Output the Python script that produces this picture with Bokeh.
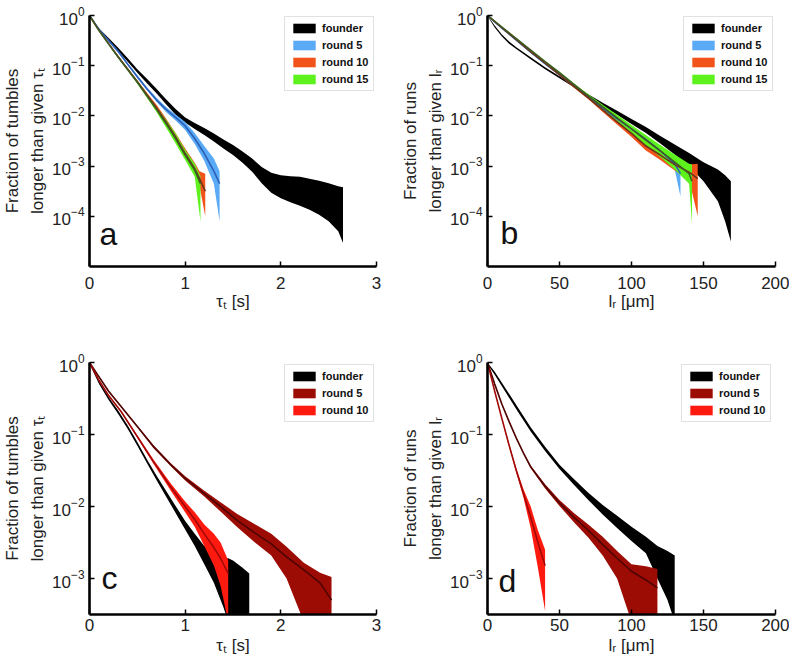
from bokeh.plotting import figure
from bokeh.layouts import column, row
from bokeh.models import Range1d, FixedTicker, Legend, LegendItem, Label, ColumnDataSource
from bokeh.embed import file_html
from bokeh.resources import INLINE

# ---------------- Panel a : tumble durations ----------------
a_founder_t = [0, 0.1, 0.2, 0.3, 0.4, 0.5, 0.6, 0.7, 0.8, 0.9, 1.0, 1.1, 1.2, 1.3, 1.4, 1.5, 1.6, 1.7, 1.8, 1.9, 2.0, 2.1, 2.2, 2.3, 2.4, 2.5, 2.6, 2.65]
a_founder_hi = [1.0, 0.55, 0.355, 0.229, 0.141, 0.0851, 0.055, 0.0347, 0.0214, 0.0138, 0.00933, 0.00724, 0.00575, 0.00447, 0.00339, 0.00263, 0.00195, 0.00141, 0.000955, 0.000741, 0.000661, 0.000631, 0.000617, 0.000562, 0.000513, 0.000457, 0.000398, 0.00038]
a_founder_lo = [0.955, 0.49, 0.309, 0.195, 0.12, 0.0724, 0.0447, 0.0282, 0.017, 0.0105, 0.00741, 0.0055, 0.00417, 0.00309, 0.00224, 0.00166, 0.00117, 0.000776, 0.000457, 0.000295, 0.000229, 0.000191, 0.000162, 0.000135, 0.000107, 0.0000794, 0.0000501, 0.0000295]

a_r5_t = [0, 0.1, 0.2, 0.3, 0.4, 0.5, 0.6, 0.7, 0.8, 0.9, 1.0, 1.1, 1.2, 1.3, 1.36]
a_r5_mid = [1.0, 0.525, 0.316, 0.191, 0.107, 0.0603, 0.0347, 0.0209, 0.0135, 0.00933, 0.00631, 0.00355, 0.00178, 0.000794, 0.000447]
a_r5_hi = [1.0, 0.537, 0.324, 0.2, 0.112, 0.0646, 0.0372, 0.0229, 0.0151, 0.0107, 0.00759, 0.00457, 0.00251, 0.00141, 0.000794]
a_r5_lo = [0.977, 0.513, 0.309, 0.182, 0.102, 0.0562, 0.0324, 0.0191, 0.012, 0.00813, 0.00525, 0.00275, 0.00126, 0.000447, 0.0000794]

a_r10_t = [0, 0.1, 0.2, 0.3, 0.4, 0.5, 0.6, 0.7, 0.8, 0.9, 1.0, 1.1, 1.15, 1.21]
a_r10_mid = [1.0, 0.501, 0.275, 0.151, 0.0851, 0.0479, 0.0263, 0.0145, 0.00759, 0.0038, 0.00178, 0.000891, 0.000562, 0.000316]
a_r10_hi = [1.0, 0.513, 0.285, 0.158, 0.0891, 0.0513, 0.0288, 0.0166, 0.00891, 0.00457, 0.00224, 0.00117, 0.000794, 0.000708]
a_r10_lo = [0.977, 0.49, 0.266, 0.145, 0.0813, 0.0447, 0.024, 0.0126, 0.00646, 0.00316, 0.00141, 0.000676, 0.000398, 0.0001]

a_r15_t = [0, 0.1, 0.2, 0.3, 0.4, 0.5, 0.6, 0.7, 0.8, 0.9, 1.0, 1.1, 1.16]
a_r15_mid = [1.0, 0.501, 0.269, 0.148, 0.0832, 0.0468, 0.0251, 0.0135, 0.00708, 0.00355, 0.00166, 0.000832, 0.000447]
a_r15_hi = [1.0, 0.513, 0.279, 0.155, 0.0871, 0.0501, 0.0275, 0.0151, 0.00851, 0.00447, 0.00209, 0.00112, 0.000631]
a_r15_lo = [0.977, 0.49, 0.26, 0.141, 0.0794, 0.0437, 0.0229, 0.012, 0.00589, 0.00282, 0.00132, 0.000617, 0.0000794]

# ---------------- Panel b : run lengths ----------------
b_founder_l = [0, 5, 10, 15, 20, 30, 40, 50, 60, 70, 80, 90, 100, 110, 120, 130, 140, 150, 160, 165, 169]
b_founder_hi = [1.0, 0.631, 0.417, 0.302, 0.234, 0.148, 0.0933, 0.0617, 0.0407, 0.0269, 0.0182, 0.0126, 0.00871, 0.00603, 0.00398, 0.00269, 0.00182, 0.0012, 0.000851, 0.000661, 0.000501]
b_founder_lo = [0.977, 0.575, 0.38, 0.275, 0.214, 0.135, 0.0851, 0.0562, 0.0372, 0.024, 0.0158, 0.0105, 0.00692, 0.00457, 0.00282, 0.0017, 0.001, 0.000501, 0.0002, 0.0000794, 0.0000316]

b_r5_l = [0, 10, 20, 30, 40, 50, 60, 70, 80, 90, 100, 110, 120, 130, 134]
b_r5_mid = [1.0, 0.562, 0.324, 0.186, 0.11, 0.0661, 0.0398, 0.024, 0.0145, 0.00871, 0.0055, 0.00339, 0.002, 0.00112, 0.000708]
b_r5_hi = [1.0, 0.575, 0.331, 0.193, 0.113, 0.0692, 0.0417, 0.0257, 0.0155, 0.00955, 0.00617, 0.00389, 0.0024, 0.00148, 0.00112]
b_r5_lo = [0.977, 0.55, 0.316, 0.18, 0.106, 0.0631, 0.038, 0.0224, 0.0135, 0.00794, 0.0049, 0.00295, 0.00166, 0.000851, 0.000251]

b_r10_l = [0, 10, 20, 30, 40, 50, 60, 70, 80, 90, 100, 110, 120, 130, 140, 146]
b_r10_mid = [1.0, 0.575, 0.331, 0.191, 0.112, 0.0661, 0.0389, 0.0229, 0.0132, 0.00759, 0.00447, 0.00251, 0.00166, 0.00107, 0.000759, 0.000562]
b_r10_hi = [1.0, 0.589, 0.343, 0.197, 0.117, 0.0692, 0.0417, 0.0245, 0.0145, 0.00851, 0.00525, 0.00309, 0.00209, 0.00141, 0.00107, 0.00112]
b_r10_lo = [0.977, 0.562, 0.32, 0.184, 0.107, 0.0631, 0.0363, 0.0214, 0.012, 0.00676, 0.0038, 0.00204, 0.00132, 0.000813, 0.000537, 0.0001]

b_r15_l = [0, 10, 20, 30, 40, 50, 60, 70, 80, 90, 100, 110, 120, 130, 140, 142]
b_r15_mid = [1.0, 0.589, 0.347, 0.204, 0.12, 0.0724, 0.0427, 0.0251, 0.0151, 0.00912, 0.0055, 0.00331, 0.002, 0.0012, 0.000708, 0.000501]
b_r15_hi = [1.0, 0.603, 0.355, 0.211, 0.124, 0.0759, 0.0447, 0.0269, 0.0166, 0.0105, 0.00661, 0.00417, 0.00263, 0.0017, 0.00112, 0.00107]
b_r15_lo = [0.977, 0.575, 0.339, 0.197, 0.116, 0.0692, 0.0407, 0.0234, 0.0138, 0.00794, 0.00457, 0.00263, 0.00151, 0.000851, 0.000447, 0.0000708]

# ---------------- Panel c : tumble durations ----------------
c_founder_t = [0, 0.1, 0.2, 0.3, 0.4, 0.5, 0.6, 0.7, 0.8, 0.9, 1.0, 1.1, 1.2, 1.3, 1.4, 1.45, 1.5, 1.6, 1.67]
c_founder_hi = [1.0, 0.55, 0.331, 0.216, 0.133, 0.0785, 0.0452, 0.0269, 0.0166, 0.0102, 0.00631, 0.00417, 0.00282, 0.00224, 0.00191, 0.00191, 0.00178, 0.00141, 0.00117]
c_founder_lo = [0.955, 0.501, 0.302, 0.193, 0.119, 0.07, 0.0403, 0.0234, 0.0138, 0.00813, 0.00479, 0.00282, 0.00158, 0.000871, 0.000398, 0.000251, 0.000251, 0.000251, 0.000251]

c_r5_t = [0, 0.1, 0.2, 0.33, 0.5, 0.67, 0.85, 1.0, 1.2, 1.37, 1.54, 1.72, 1.9, 2.06, 2.24, 2.41, 2.53]
c_r5_mid = [1.0, 0.631, 0.398, 0.245, 0.129, 0.0676, 0.038, 0.0245, 0.0151, 0.01, 0.00646, 0.00437, 0.00302, 0.002, 0.00132, 0.000871, 0.000501]
c_r5_hi = [1.0, 0.646, 0.407, 0.251, 0.132, 0.0708, 0.0398, 0.0263, 0.0166, 0.0115, 0.00794, 0.00575, 0.00417, 0.00275, 0.00166, 0.0012, 0.00105]
c_r5_lo = [0.977, 0.617, 0.389, 0.24, 0.126, 0.0646, 0.0363, 0.0229, 0.0138, 0.00851, 0.00525, 0.00324, 0.00209, 0.001, 0.000251, 0.000251, 0.000251]

c_r10_t = [0, 0.1, 0.2, 0.33, 0.5, 0.67, 0.85, 1.0, 1.1, 1.2, 1.3, 1.37, 1.45]
c_r10_mid = [1.0, 0.562, 0.347, 0.209, 0.0933, 0.0417, 0.0186, 0.01, 0.00661, 0.00417, 0.00269, 0.00191, 0.00117]
c_r10_hi = [1.0, 0.575, 0.355, 0.214, 0.0977, 0.0447, 0.0209, 0.0117, 0.00832, 0.00562, 0.00417, 0.00316, 0.00178]
c_r10_lo = [0.977, 0.55, 0.339, 0.204, 0.0891, 0.0389, 0.0166, 0.00832, 0.00525, 0.00282, 0.00151, 0.000794, 0.000251]

# ---------------- Panel d : run lengths ----------------
d_founder_l = [0, 5, 10, 20, 30, 40, 50, 60, 70, 80, 90, 100, 110, 118, 125, 130]
d_founder_hi = [1.0, 0.741, 0.525, 0.257, 0.126, 0.0676, 0.038, 0.024, 0.0155, 0.0105, 0.00741, 0.00525, 0.0038, 0.00282, 0.0024, 0.00209]
d_founder_lo = [0.955, 0.676, 0.468, 0.224, 0.11, 0.0589, 0.0331, 0.02, 0.0123, 0.00776, 0.00501, 0.00331, 0.00224, 0.001, 0.000501, 0.000251]

d_r5_l = [0, 5, 10, 15, 20, 25, 30, 40, 50, 60, 70, 80, 90, 100, 110, 118]
d_r5_mid = [1.0, 0.501, 0.263, 0.151, 0.0891, 0.055, 0.0355, 0.0191, 0.0112, 0.00708, 0.00468, 0.00295, 0.00191, 0.00126, 0.000955, 0.000741]
d_r5_hi = [1.0, 0.513, 0.269, 0.155, 0.0912, 0.0562, 0.0372, 0.0204, 0.0123, 0.00813, 0.00562, 0.0038, 0.0024, 0.00158, 0.00148, 0.00135]
d_r5_lo = [0.977, 0.49, 0.257, 0.148, 0.0871, 0.0537, 0.0339, 0.0178, 0.0102, 0.00603, 0.00372, 0.00209, 0.001, 0.000251, 0.000251, 0.000251]

d_r10_l = [0, 5, 10, 15, 20, 25, 30, 35, 40]
d_r10_mid = [1.0, 0.398, 0.166, 0.0708, 0.0316, 0.0151, 0.00708, 0.00316, 0.00151]
d_r10_hi = [1.0, 0.407, 0.17, 0.0741, 0.0339, 0.0174, 0.01, 0.00468, 0.00251]
d_r10_lo = [0.977, 0.389, 0.162, 0.0676, 0.0295, 0.0132, 0.00501, 0.00141, 0.000355]

# ---------------- axes / labels ----------------
tau_ticks = [0, 1, 2, 3]
len_ticks = [0, 50, 100, 150, 200]
y_ticks_top = [1e-4, 1e-3, 1e-2, 1e-1, 1]
y_ticks_bottom = [1e-3, 1e-2, 1e-1, 1]
legend_names_top = ["founder", "round 5", "round 10", "round 15"]
legend_names_bottom = ["founder", "round 5", "round 10"]
xlabel_tau = "τₜ [s]"
xlabel_len = "lᵣ [μm]"
ylabel_tau = "Fraction of tumbles\nlonger than given τₜ"
ylabel_len = "Fraction of runs\nlonger than given lᵣ"

BLACK = ("#000000", "#000000")
BLUE = ("#5aaaf5", "#2c60b8")
ORANGE = ("#f2531b", "#6e3418")
GREEN = ("#5df21c", "#3e5a22")
DARKRED = ("#9c0c04", "#4e0402")
RED = ("#ff1a10", "#a00808")

FONT = "Liberation Sans"


def panel(series, names, xmax, ymin, xticks, yticks, xlabel, ylabel, letter,
          width, height, borders, legend_loc, letter_pos, x_standoffs):
    left, right, top, bottom = borders
    p = figure(width=width, height=height, x_range=Range1d(0, xmax),
               y_range=Range1d(ymin, 1), y_axis_type="log",
               output_backend="svg", toolbar_location=None,
               min_border_left=left, min_border_right=right,
               min_border_top=top, min_border_bottom=bottom)
    p.outline_line_color = None
    p.xgrid.visible = False
    p.ygrid.visible = False
    p.background_fill_color = "white"

    bands = []
    for (x, lo, hi, mid, colors) in series:
        src = ColumnDataSource(dict(x=x, lo=lo, hi=hi))
        r = p.varea(x="x", y1="lo", y2="hi", source=src,
                    fill_color=colors[0], fill_alpha=1.0)
        bands.append(r)
    for (x, lo, hi, mid, colors) in series:
        if mid is not None:
            p.line(x=x, y=mid, line_color=colors[1], line_width=1.6)

    p.xaxis.ticker = FixedTicker(ticks=xticks)
    p.yaxis.ticker = FixedTicker(ticks=yticks)
    for ax in (p.xaxis[0], p.yaxis[0]):
        ax.axis_line_width = 2.6
        ax.axis_line_color = "black"
        ax.major_tick_in = 5
        ax.major_tick_out = 0
        ax.major_tick_line_width = 1.5
        ax.minor_tick_line_color = None
        ax.major_label_text_font = FONT
        ax.major_label_text_font_size = "17px"
        ax.major_label_text_color = "#222222"
        ax.axis_label_text_font = FONT
        ax.axis_label_text_font_size = "17px"
        ax.axis_label_text_font_style = "normal"
        ax.axis_label_text_color = "#222222"
    p.xaxis.axis_label = xlabel
    p.yaxis.axis_label = ylabel
    p.xaxis.major_label_standoff = x_standoffs[0]
    p.xaxis.axis_label_standoff = x_standoffs[1]
    p.yaxis.major_label_standoff = 5
    p.yaxis.axis_label_standoff = 2
    p.yaxis.axis_label_text_line_height = 1.3

    items = [LegendItem(label=n, renderers=[r]) for n, r in zip(names, bands)]
    leg = Legend(items=items, location=legend_loc)
    leg.label_text_font = FONT
    leg.label_text_font_size = "11px"
    leg.label_text_font_style = "bold"
    leg.label_text_color = "#111111"
    leg.glyph_width = 28
    leg.glyph_height = 12
    leg.label_height = 12
    leg.label_standoff = 4
    leg.spacing = 5
    leg.padding = 5
    leg.margin = 0
    leg.border_line_color = "#c4c4c4"
    leg.border_line_width = 1
    leg.background_fill_color = "white"
    leg.background_fill_alpha = 1.0
    p.add_layout(leg)

    p.add_layout(Label(x=letter_pos[0], y=letter_pos[1], x_units="screen",
                       y_units="screen", text=letter, text_font=FONT,
                       text_font_size="32px", text_color="#111111"))
    return p


pa = panel([(a_founder_t, a_founder_lo, a_founder_hi, None, BLACK),
            (a_r5_t, a_r5_lo, a_r5_hi, a_r5_mid, BLUE),
            (a_r10_t, a_r10_lo, a_r10_hi, a_r10_mid, ORANGE),
            (a_r15_t, a_r15_lo, a_r15_hi, a_r15_mid, GREEN)],
           legend_names_top, 3, 1e-5, tau_ticks, y_ticks_top, xlabel_tau, ylabel_tau, "a",
           390, 330, (88, 14, 15, 64), (195, 175), (10, 15), (10, 0))

pb = panel([(b_founder_l, b_founder_lo, b_founder_hi, None, BLACK),
            (b_r5_l, b_r5_lo, b_r5_hi, b_r5_mid, BLUE),
            (b_r10_l, b_r10_lo, b_r10_hi, b_r10_mid, ORANGE),
            (b_r15_l, b_r15_lo, b_r15_hi, b_r15_mid, GREEN)],
           legend_names_top, 200, 1e-5, len_ticks, y_ticks_top, xlabel_len, ylabel_len, "b",
           399, 330, (97, 14, 15, 64), (196, 175), (13, 16), (10, 0))

pc = panel([(c_founder_t, c_founder_lo, c_founder_hi, None, BLACK),
            (c_r5_t, c_r5_lo, c_r5_hi, c_r5_mid, DARKRED),
            (c_r10_t, c_r10_lo, c_r10_hi, c_r10_mid, RED)],
           legend_names_bottom, 3, 10 ** -3.5, tau_ticks, y_ticks_bottom, xlabel_tau, ylabel_tau, "c",
           390, 336, (88, 14, 32, 52), (195, 192), (12, 19), (4, 2))

pd_ = panel([(d_founder_l, d_founder_lo, d_founder_hi, None, BLACK),
             (d_r5_l, d_r5_lo, d_r5_hi, d_r5_mid, DARKRED),
             (d_r10_l, d_r10_lo, d_r10_hi, d_r10_mid, RED)],
            legend_names_bottom, 200, 10 ** -3.5, len_ticks, y_ticks_bottom, xlabel_len, ylabel_len, "d",
            399, 336, (97, 14, 32, 52), (194, 192), (11, 16), (4, 2))

layout = column(row(pa, pb, spacing=0), row(pc, pd_, spacing=0), spacing=0)

with open("out.html", "w") as f:
    f.write(file_html(layout, INLINE))
